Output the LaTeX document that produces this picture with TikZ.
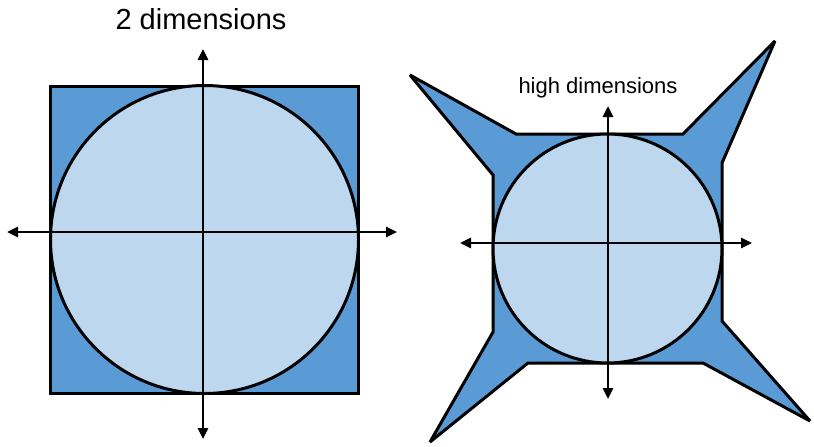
\documentclass[tikz,border=0pt]{standalone}
\usepackage{fontspec}
\setmainfont{Liberation Sans}
\usetikzlibrary{arrows.meta}
\definecolor{cdark}{RGB}{91,155,213}
\definecolor{clight}{RGB}{189,215,238}

\begin{document}
\begin{tikzpicture}[x=1pt,y=-1pt,
  outline/.style={draw=black,line width=3pt},
  axis/.style={black,line width=2.6pt,{Triangle[length=11pt,width=10pt]}-{Triangle[length=11pt,width=10pt]}}]
  \useasboundingbox (0,0) rectangle (814,447);
  % 2 dimensions
  \node[anchor=base,font=\fontsize{29}{33}\selectfont] (ttwo) at (201,29) {2 dimensions};
  \filldraw[outline,fill=cdark] (50,86) rectangle (358,393);
  \filldraw[outline,fill=clight] (204.5,239.5) circle (154);
  \coordinate (lw) at (7,232);   \coordinate (le) at (397,232);
  \coordinate (ln) at (203,49);  \coordinate (ls) at (203,439);
  \draw[axis] (lw) -- (le);
  \draw[axis] (ln) -- (ls);
  % high dimensions
  \node[anchor=base,font=\fontsize{22}{26}\selectfont] (thigh) at (598,93) {high dimensions};
  \filldraw[outline,fill=cdark,miter limit=3] (516,134) -- (683,134) -- (775,41) -- (722,163)
    -- (722,321) -- (810,421) -- (703,363) -- (528,363) -- (430,442) -- (493,332)
    -- (493,175) -- (410,75) -- cycle;
  \filldraw[outline,fill=clight] (607.5,248.5) circle (114.5);
  \coordinate (rw) at (460,243); \coordinate (re) at (752,243);
  \coordinate (rn) at (608,106); \coordinate (rs) at (608,399);
  \draw[axis] (rw) -- (re);
  \draw[axis] (rn) -- (rs);
\end{tikzpicture}
\end{document}
